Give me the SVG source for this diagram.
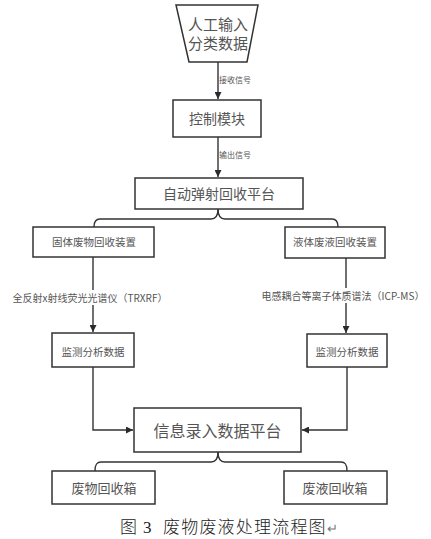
<svg xmlns="http://www.w3.org/2000/svg" width="431" height="539" viewBox="0 0 431 539">
<defs>
<marker id="arr" viewBox="0 0 10 10" refX="10" refY="5" markerWidth="7" markerHeight="7" markerUnits="userSpaceOnUse" orient="auto">
<path d="M0,0 L10,5 L0,10 z" fill="#2a2a2a"/>
</marker>
</defs>
<style>
.box{fill:#fff;stroke:#333;stroke-width:1.5}
.ln{fill:none;stroke:#333;stroke-width:1.4}
.t{font-family:"Noto Sans CJK SC","Liberation Sans",sans-serif;fill:#555;text-anchor:middle}
.lbl{font-family:"Noto Sans CJK SC","Liberation Sans",sans-serif;fill:#555}
.cap{font-family:"Liberation Serif","Noto Sans CJK SC",serif;fill:#222;font-size:17px;font-weight:300}
</style>
<rect width="431" height="539" fill="#fff"/>
<g id="connectors">
<path class="ln" d="M218,62 V99" marker-end="url(#arr)"/>
<path class="ln" d="M218,137 V177" marker-end="url(#arr)"/>
<path class="ln" d="M218,209 C218,215 216,219 211,219 H100 C96,219 94,221 94,227"/>
<path class="ln" d="M218,209 C218,215 220,219 225,219 H332 C336,219 338,221 338,227"/>
<path class="ln" d="M93,257 V332" marker-end="url(#arr)"/>
<path class="ln" d="M346,258 V333" marker-end="url(#arr)"/>
<path class="ln" d="M93,367 V430 H133" marker-end="url(#arr)"/>
<path class="ln" d="M347,367 V430 H302" marker-end="url(#arr)"/>
<path class="ln" d="M218,452 C218,458 216,462 211,462 H101 C97,462 95,464 95,471"/>
<path class="ln" d="M218,452 C218,458 220,462 225,462 H341 C345,462 347,464 347,471"/>
<text class="lbl" x="219" y="83" font-size="8">接收信号</text>
<text class="lbl" x="219" y="158" font-size="8">输出信号</text>
<rect x="8" y="290" width="164" height="15" fill="#fff"/>
<text class="t" x="90" y="302" font-size="10">全反射x射线荧光光谱仪（TRXRF）</text>
<rect x="256" y="288" width="174" height="15" fill="#fff"/>
<text class="t" x="343" y="300" font-size="10">电感耦合等离子体质谱法（ICP-MS）</text>
</g>
<g id="input">
<polygon class="box" points="176,5 258,5 247,62 189,62"/>
<text class="t" x="218" y="30" font-size="15">人工输入</text>
<text class="t" x="218" y="49" font-size="15">分类数据</text>
</g>
<g id="control">
<rect class="box" x="173" y="100" width="88" height="37"/>
<text class="t" x="217" y="124" font-size="14">控制模块</text>
</g>
<g id="platform">
<rect class="box" x="135" y="178" width="168" height="31"/>
<text class="t" x="219" y="199" font-size="14">自动弹射回收平台</text>
</g>
<g id="solid">
<rect class="box" x="33" y="227" width="121" height="30"/>
<text class="t" x="94" y="246" font-size="10.5">固体废物回收装置</text>
</g>
<g id="liquid">
<rect class="box" x="285" y="227" width="100" height="31"/>
<text class="t" x="335" y="246" font-size="10.5">液体废液回收装置</text>
</g>
<g id="monitor-left">
<rect class="box" x="52" y="333" width="82" height="34"/>
<text class="t" x="93" y="356" font-size="10.5">监测分析数据</text>
</g>
<g id="monitor-right">
<rect class="box" x="307" y="334" width="80" height="33"/>
<text class="t" x="347" y="356" font-size="10.5">监测分析数据</text>
</g>
<g id="info">
<rect class="box" x="134" y="408" width="167" height="44"/>
<text class="t" x="217.5" y="437" font-size="16">信息录入数据平台</text>
</g>
<g id="waste-box">
<rect class="box" x="52" y="471" width="103" height="33"/>
<text class="t" x="104" y="493" font-size="13">废物回收箱</text>
</g>
<g id="liquid-box">
<rect class="box" x="284" y="471" width="103" height="33"/>
<text class="t" x="335" y="493" font-size="13">废液回收箱</text>
</g>
<text class="cap" y="533"><tspan x="120">图</tspan><tspan x="143">3</tspan><tspan x="163" letter-spacing="1.2">废物废液处理流程图</tspan><tspan fill="#777" font-size="13">↵</tspan></text>
</svg>
